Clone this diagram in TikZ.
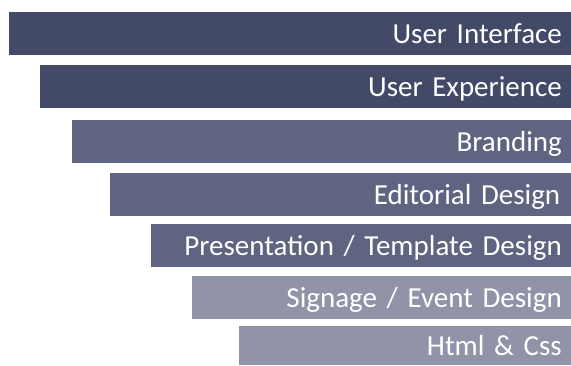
\documentclass[tikz,border=0pt]{standalone}
\usepackage{fontspec}
\setmainfont{Carlito}
\usepackage{xcolor}
\usepackage{tikz}
\usetikzlibrary{positioning}

\definecolor{barDark}{RGB}{67,74,104}
\definecolor{barMid}{RGB}{95,100,128}
\definecolor{barLight}{RGB}{145,148,168}
\newcommand{\barfont}{\fontsize{29}{29}\selectfont\spaceskip=0.17em\relax}

\begin{document}
\begin{tikzpicture}[
      x=1pt, y=-1pt,
      bar/.style={anchor=north east, minimum height=43pt, inner xsep=9pt,
                  inner ysep=0pt, align=right, text=white,
                  text height=18.6pt, text depth=0pt, font=\barfont}
    ]
    \useasboundingbox (0,0) rectangle (571,365);

    \node[bar, fill=barDark, text width=544pt] (ui)  at (571,12)  {User Interface};
    \node[bar, fill=barDark, text width=513pt] (ux)  at (571,65)  {User Experience};
    \node[bar, fill=barMid, text width=481pt] (brand) at (571,120) {Branding};
    \node[bar, fill=barMid, text width=440pt, inner xsep=10.5pt] (edit) at (571,173) {Editorial Design};
    \node[bar, fill=barMid, text width=402pt] (pres)  at (571,224) {Presentation / Template Design};
    \node[bar, fill=barLight, text width=361pt] (sign) at (571,276) {Signage / Event Design};
    \node[bar, fill=barLight, text width=314pt, minimum height=39pt] (html) at (571,326) {Html \& Css};
  \end{tikzpicture}
\end{document}
